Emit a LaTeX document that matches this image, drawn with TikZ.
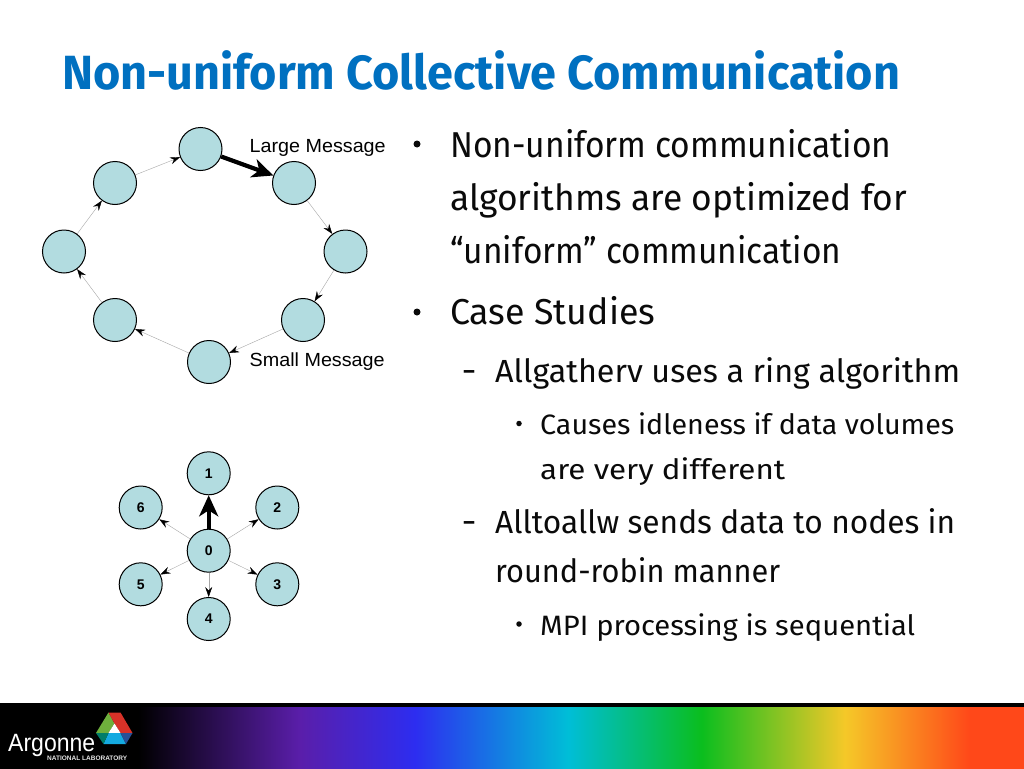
\documentclass[tikz,border=0pt]{standalone}
\usepackage{fontspec}
\setmainfont{Fira Sans}
\newfontfamily\arialf{Liberation Sans}
\usetikzlibrary{arrows.meta}
\definecolor{nodefill}{RGB}{178,220,224}
\definecolor{titleblue}{RGB}{0,112,192}
\definecolor{bodytext}{RGB}{10,10,10}
\definecolor{spa}{RGB}{90,30,170}
\definecolor{spb}{RGB}{45,45,240}
\definecolor{spc}{RGB}{0,190,215}
\definecolor{spd}{RGB}{10,190,30}
\definecolor{spe}{RGB}{245,200,40}
\definecolor{spf}{RGB}{255,72,25}
\definecolor{lgreen}{RGB}{110,175,60}
\definecolor{lred}{RGB}{215,50,40}
\definecolor{lcyan}{RGB}{20,170,225}
\definecolor{ldgreen}{RGB}{0,125,105}
\definecolor{ldblue}{RGB}{40,80,150}
\pgfdeclarehorizontalshading{spectrum}{100bp}{
 color(0bp)=(black);
 color(31.75bp)=(black);
 color(39.65bp)=(spa);
 color(45.25bp)=(spb);
 color(52.75bp)=(spc);
 color(59.25bp)=(spd);
 color(66.25bp)=(spe);
 color(72.35bp)=(spf);
 color(100bp)=(spf)}
\tikzset{
 x=1pt,y=-1pt,
 peer/.style={circle,draw=black,line width=1pt,fill=nodefill,minimum size=43pt,inner sep=0pt},
 num/.style={peer,font=\arialf\bfseries\fontsize{14}{14}\selectfont},
 thin link/.style={draw=black!35,line width=0.4pt,-{Stealth[black,length=10pt,width=7pt,inset=3.5pt]}},
 fat link/.style={draw=black,line width=4.2pt,-{Stealth[length=21pt,width=19pt,inset=6pt]}},
 msg/.style={anchor=base west,inner sep=0pt,font=\arialf\fontsize{19}{19}\selectfont,text=black},
 txt/.style={anchor=base west,inner sep=0pt,text=bodytext},
 big/.style={txt,font=\fontsize{36}{36}\selectfont},
 mid/.style={txt,font=\fontsize{32}{32}\selectfont},
 small/.style={txt,font=\fontsize{28}{28}\selectfont},
 dot/.style={circle,fill=bodytext,inner sep=0pt},
}
\newcommand{\fw}[2]{\resizebox{#1pt}{\height}{#2}}
\begin{document}
\begin{tikzpicture}
\useasboundingbox (0,0) rectangle (1024,768);
\fill[white] (0,0) rectangle (1024,768);
% bar
\shade[shading=spectrum] (0,704) rectangle (1024,768);
\fill[black] (0,703) rectangle (1024,707);
% logo
\fill[lgreen] (108.5,712.5) -- (96,733) -- (108.5,733) -- (114.5,723.5) -- cycle;
\fill[lred] (108.5,712.5) -- (120.5,712.5) -- (132.5,733) -- (120.5,733) -- (114.5,723.5) -- cycle;
\fill[white] (114.5,723.5) -- (108.5,733) -- (120.5,733) -- cycle;
\fill[lcyan] (108.5,733) -- (120.5,733) -- (126,744) -- (103.5,744) -- cycle;
\fill[ldgreen] (96,733) -- (108.5,733) -- (103.5,744) -- cycle;
\fill[ldblue] (120.5,733) -- (132.5,733) -- (126,744) -- cycle;
\node[anchor=base west,inner sep=0pt,text=white,font=\arialf\fontsize{25}{25}\selectfont] (logoa) at (8,751.5) {\fw{87}{Argonne}};
\node[anchor=base west,inner sep=0pt,text=black!10,font=\arialf\bfseries\fontsize{6.5}{6.5}\selectfont] (logob) at (47,760) {\fw{80}{NATIONAL LABORATORY}};
% title
\node[anchor=base west,inner sep=0pt,text=titleblue,font=\bfseries\fontsize{48}{48}\selectfont] (title) at (62,89.5) {\fw{838}{Non-uniform Collective Communication}};
% ring
\node[peer] (r0) at (200.5,149) {};
\node[peer] (r1) at (294,183) {};
\node[peer] (r2) at (345.5,251.5) {};
\node[peer] (r3) at (303,320) {};
\node[peer] (r4) at (209,362) {};
\node[peer] (r5) at (115,320) {};
\node[peer] (r6) at (64,251.5) {};
\node[peer] (r7) at (115,183) {};
\draw[fat link] (r0) -- (r1);
\draw[thin link] (r1) -- (r2);
\draw[thin link] (r2) -- (r3);
\draw[thin link] (r3) -- (r4);
\draw[thin link] (r4) -- (r5);
\draw[thin link] (r5) -- (r6);
\draw[thin link] (r6) -- (r7);
\draw[thin link] (r7) -- (r0);
\node[msg] (lm) at (249.5,152.5) {\fw{136}{Large Message}};
\node[msg] (sm) at (249.5,366) {\fw{135}{Small Message}};
% star
\node[num] (s0) at (208.7,550.7) {0};
\node[num] (s1) at (208.7,473.3) {1};
\node[num] (s2) at (277.3,507.5) {2};
\node[num] (s3) at (277.3,584.3) {3};
\node[num] (s4) at (208.7,619) {4};
\node[num] (s5) at (140.7,584.3) {5};
\node[num] (s6) at (140.7,507.5) {6};
\draw[fat link] (s0) -- (s1);
\draw[thin link] (s0) -- (s2);
\draw[thin link] (s0) -- (s3);
\draw[thin link] (s0) -- (s4);
\draw[thin link] (s0) -- (s5);
\draw[thin link] (s0) -- (s6);
% text
\node[dot,minimum size=7pt] (b1) at (417,144) {};
\node[big] (t1) at (450,157.5) {\fw{441}{Non-uniform communication}};
\node[big] (t2) at (450,210.5) {\fw{457}{algorithms are optimized for}};
\node[big] (t3) at (450,263.5) {\fw{391}{“uniform” communication}};
\node[dot,minimum size=7pt] (b2) at (417,312) {};
\node[big] (t4) at (450,324.5) {\fw{205}{Case Studies}};
\node[txt,font=\fontsize{34}{34}\selectfont] (d1) at (463,382.5) {\fw{12}{–}};
\node[mid] (t5) at (495,382.5) {\fw{465}{Allgatherv uses a ring algorithm}};
\node[dot,minimum size=5.5pt] (b3) at (519,423.5) {};
\node[small] (t6) at (540,434) {\fw{414}{Causes idleness if data volumes}};
\node[small] (t7) at (540,479) {\fw{245}{are very different}};
\node[txt,font=\fontsize{34}{34}\selectfont] (d2) at (463,533.5) {\fw{12}{–}};
\node[mid] (t8) at (495,533.5) {\fw{460}{Alltoallw sends data to nodes in}};
\node[mid] (t9) at (495,582.5) {\fw{285}{round-robin manner}};
\node[dot,minimum size=5.5pt] (b4) at (519,624) {};
\node[small] (t10) at (540,635) {\fw{375}{MPI processing is sequential}};
\end{tikzpicture}
\end{document}
